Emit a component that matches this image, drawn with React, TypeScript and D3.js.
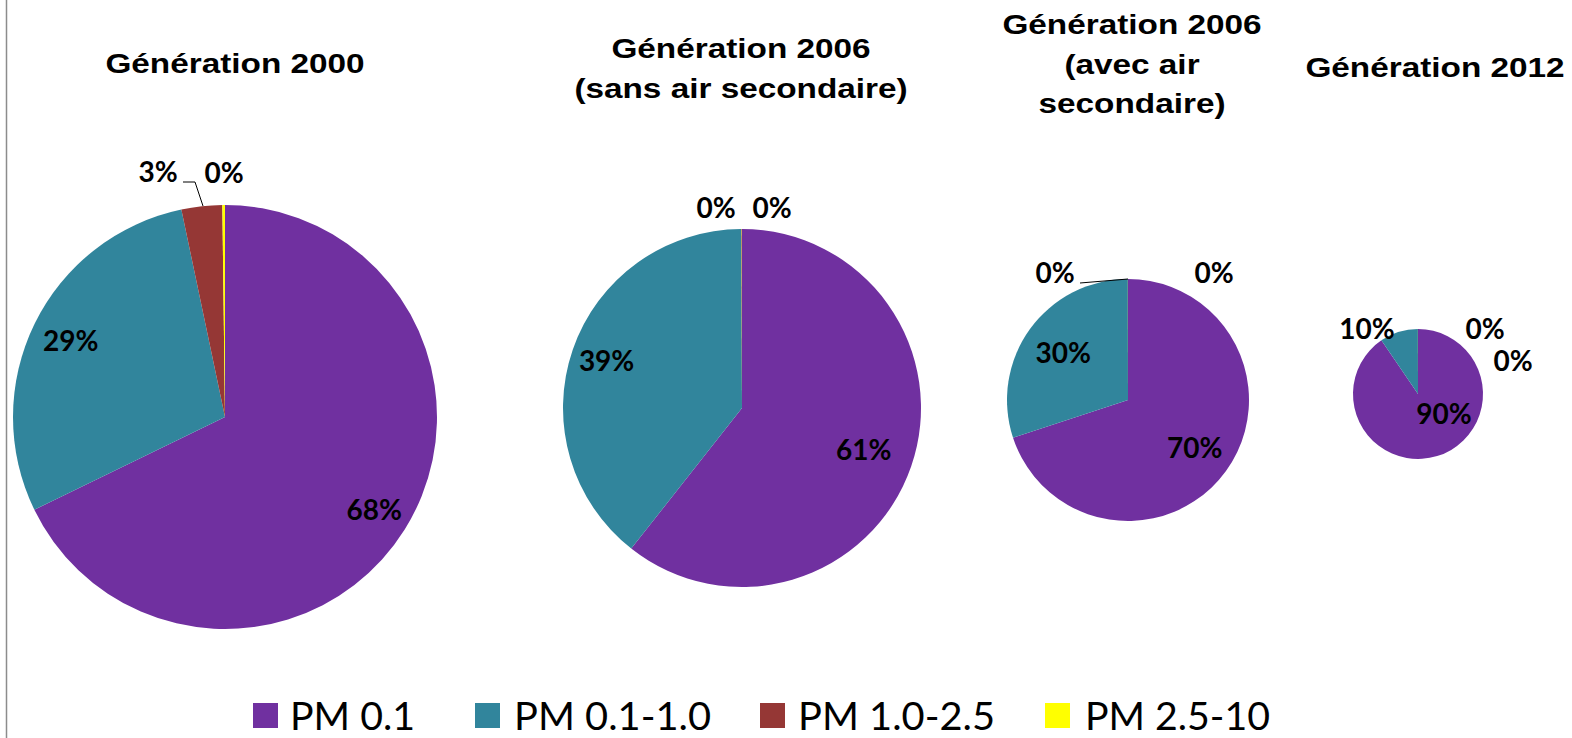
import React from "react";
import * as d3 from "d3";

// ---- data ----
const categories = ["PM 0.1", "PM 0.1-1.0", "PM 1.0-2.5", "PM 2.5-10"];
const colors = ["#7030A0", "#31859C", "#953735", "#FFFF00"];
const gen2000 = [67.8, 28.9, 3.1, 0.2];
const gen2006Sans = [60.6, 39.3, 0.05, 0.02];
const gen2006Avec = [69.9, 30.0, 0.01, 0.01];
const gen2012 = [90.4, 9.5, 0.01, 0.01];
const titles = [
  ["Génération 2000"],
  ["Génération 2006", "(sans air secondaire)"],
  ["Génération 2006", "(avec air", "secondaire)"],
  ["Génération 2012"],
];

// ---- layout ----
type LabelPos = { mode: "in"; k: number } | { mode: "out"; dx: number; dy: number; leader?: [number, number][] };
const pies = [
  {
    values: gen2000, cx: 225, cy: 417, r: 212, titleX: 235, titleY: 73,
    labels: [
      { mode: "in", k: 0.83 },
      { mode: "in", k: 0.81 },
      { mode: "out", dx: -67, dy: -235, leader: [[-42, -235], [-30, -235], [-22, -211]] },
      { mode: "out", dx: -1, dy: -234 },
    ] as LabelPos[],
  },
  {
    values: gen2006Sans, cx: 742, cy: 408, r: 179, titleX: 741, titleY: 58,
    labels: [
      { mode: "in", k: 0.72 },
      { mode: "in", k: 0.8 },
      { mode: "out", dx: -26, dy: -190 },
      { mode: "out", dx: 30, dy: -190 },
    ] as LabelPos[],
  },
  {
    values: gen2006Avec, cx: 1128, cy: 400, r: 121, titleX: 1132, titleY: 34,
    labels: [
      { mode: "in", k: 0.68 },
      { mode: "in", k: 0.66 },
      { mode: "out", dx: -73, dy: -117, leader: [[-48, -117], [0, -121]] },
      { mode: "out", dx: 86, dy: -117 },
    ] as LabelPos[],
  },
  {
    values: gen2012, cx: 1418, cy: 394, r: 65, titleX: 1435, titleY: 77,
    labels: [
      { mode: "out", dx: 26, dy: 30 },
      { mode: "out", dx: -51, dy: -55 },
      { mode: "out", dx: 67, dy: -55 },
      { mode: "out", dx: 95, dy: -23 },
    ] as LabelPos[],
  },
];
const legendSquareX = [253, 475, 760, 1045];
const legendTextX = [290, 514, 798, 1085];
const legendTextW = [125, 197, 197, 185];

const W = 1572;
const H = 738;

export default function App() {
  const pie = d3.pie<number>().sort(null).value((d) => d);
  return (
    <svg width={W} height={H} style={{ position: "absolute", left: 0, top: 0, background: "#fff" }}>
      <rect x={0} y={0} width={W} height={H} fill="#fff" />
      <line x1={6.5} x2={6.5} y1={0} y2={H} stroke="#8c8c8c" strokeWidth={1.5} />
      {pies.map((p, pi) => {
        const arcs = pie(p.values);
        const arc = d3.arc<d3.PieArcDatum<number>>().innerRadius(0).outerRadius(p.r);
        return (
          <g key={pi}>
            {titles[pi].map((t, li) => (
              <text
                key={li}
                transform={`translate(${p.titleX},${p.titleY + li * 39.5}) scale(1.19,1)`}
                textAnchor="middle"
                fontFamily="'Liberation Sans', Arial, sans-serif"
                fontWeight="bold"
                fontSize={28}
                fill="#000"
              >
                {t}
              </text>
            ))}
            <g transform={`translate(${p.cx},${p.cy})`}>
              {arcs.map((a, i) => (
                <path key={i} d={arc(a) || ""} fill={colors[i]} />
              ))}
              {arcs.map((a, i) => {
                const lp = p.labels[i];
                const txt = `${Math.round(a.data)}%`;
                let x = 0, y = 0;
                if (lp.mode === "in") {
                  const mid = (a.startAngle + a.endAngle) / 2;
                  const d = lp.k * p.r;
                  x = Math.sin(mid) * d;
                  y = -Math.cos(mid) * d + 10;
                } else {
                  x = lp.dx;
                  y = lp.dy;
                }
                return (
                  <g key={"l" + i}>
                    {lp.mode === "out" && lp.leader && (
                      <polyline
                        points={lp.leader.map((q) => q.join(",")).join(" ")}
                        fill="none"
                        stroke="#000"
                        strokeWidth={1}
                      />
                    )}
                    <text
                      x={x}
                      y={y}
                      textAnchor="middle"
                      fontFamily="Lato, 'Open Sans', sans-serif"
                      fontWeight="bold"
                      fontSize={28}
                      fill="#000"
                    >
                      {txt}
                    </text>
                  </g>
                );
              })}
            </g>
          </g>
        );
      })}
      {categories.map((c, i) => (
        <g key={c}>
          <rect x={legendSquareX[i]} y={703} width={25} height={25} fill={colors[i]} />
          <text
            x={legendTextX[i]}
            y={730}
            fontFamily="Lato, 'Open Sans', sans-serif"
            fontSize={39}
            textLength={legendTextW[i]}
            lengthAdjust="spacingAndGlyphs"
            fill="#000"
          >
            {c}
          </text>
        </g>
      ))}
    </svg>
  );
}
